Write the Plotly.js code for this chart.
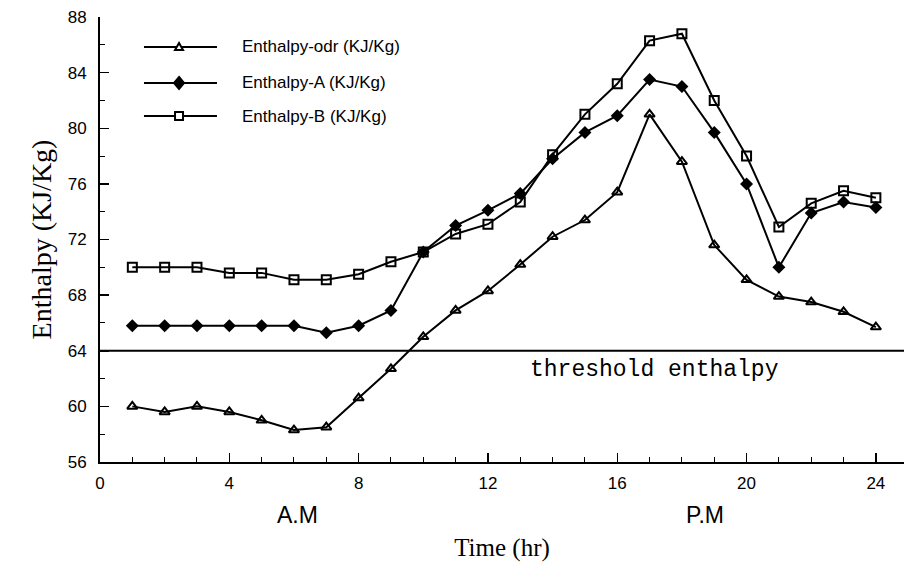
<!DOCTYPE html>
<html>
<head>
<meta charset="utf-8">
<script src="https://cdn.plot.ly/plotly-3.0.1.min.js"></script>
<style>html,body{margin:0;padding:0;background:#fff;}#chart{width:904px;height:574px;}</style>
</head>
<body>
<div id="chart"></div>
<script>
const hours = [1,2,3,4,5,6,7,8,9,10,11,12,13,14,15,16,17,18,19,20,21,22,23,24];
const enthalpyOdr = [60.0,59.6,60.0,59.6,59.0,58.3,58.5,60.6,62.7,65.0,66.9,68.3,70.2,72.2,73.4,75.4,81.0,77.6,71.6,69.1,67.9,67.5,66.8,65.7];
const enthalpyA = [65.8,65.8,65.8,65.8,65.8,65.8,65.3,65.8,66.9,71.1,73.0,74.1,75.3,77.8,79.7,80.9,83.5,83.0,79.7,76.0,70.0,73.9,74.7,74.3];
const enthalpyB = [70.0,70.0,70.0,69.6,69.6,69.1,69.1,69.5,70.4,71.1,72.4,73.1,74.7,78.1,81.0,83.2,86.3,86.8,82.0,78.0,72.9,74.6,75.5,75.0];
const seriesNames = ["Enthalpy-odr (KJ/Kg)","Enthalpy-A (KJ/Kg)","Enthalpy-B (KJ/Kg)"];
const thresholdValue = 64;
const xTickVals = [0,4,8,12,16,20,24];
const yTickVals = [56,60,64,68,72,76,80,84,88];

const lineStyle = {color:'#000', width:2};
const traces = [
  {x:hours, y:enthalpyOdr, name:seriesNames[0], mode:'lines+markers', line:lineStyle,
   marker:{symbol:'triangle-up-open', size:9, color:'#000', line:{width:2, color:'#000'}}},
  {x:hours, y:enthalpyA, name:seriesNames[1], mode:'lines+markers', line:lineStyle,
   marker:{symbol:'diamond', size:10, color:'#000', line:{width:0}}},
  {x:hours, y:enthalpyB, name:seriesNames[2], mode:'lines+markers', line:lineStyle,
   marker:{symbol:'square-open', size:9, color:'#000', line:{width:2, color:'#000'}}}
];

// Hand-drawn legend (long sample lines as in the original)
const legendRowsY = [0.9326, 0.8517, 0.7775];
const legLineX0 = 0.0547, legLineX1 = 0.1455, legMarkX = 0.0983, legTextX = 0.1741;
const legendMarkerPaths = [
  {path:'M-4,-3 L4,-3 L0,4 Z', fill:'#fff'},
  {path:'M0,6 L5,0 L0,-6 L-5,0 Z', fill:'#000'},
  {path:'M-4,-4 L4,-4 L4,4 L-4,4 Z', fill:'#fff'}
];
const legendShapes = [];
const legendAnnots = [];
seriesNames.forEach((nm, i) => {
  legendShapes.push({type:'line', xref:'paper', yref:'paper', x0:legLineX0, x1:legLineX1, y0:legendRowsY[i], y1:legendRowsY[i], line:{color:'#000', width:2}});
  legendShapes.push({type:'path', xref:'paper', yref:'paper', xsizemode:'pixel', ysizemode:'pixel', xanchor:legMarkX, yanchor:legendRowsY[i],
    path:legendMarkerPaths[i].path, fillcolor:legendMarkerPaths[i].fill, line:{color:'#000', width:2}});
  legendAnnots.push({text:nm, xref:'paper', yref:'paper', x:legTextX, y:legendRowsY[i], xanchor:'left', yanchor:'middle', showarrow:false,
    font:{family:'Liberation Sans, Arial, sans-serif', size:17, color:'#000'}});
});

const layout = {
  width:904, height:574,
  margin:{l:100, r:0, t:17, b:112},
  paper_bgcolor:'#fff', plot_bgcolor:'#fff',
  showlegend:false,
  xaxis:{range:[0,24.87], tickvals:xTickVals, ticktext:xTickVals.map(String), ticks:'inside', ticklen:9, tickwidth:1.5, tickcolor:'#000',
         minor:{dtick:1, tick0:0, ticks:'inside', ticklen:5, tickcolor:'#000', tickwidth:1},
         showline:true, linecolor:'#000', linewidth:2, showgrid:false, zeroline:false,
         ticklabelstandoff:5,
         tickfont:{family:'Liberation Sans, Arial, sans-serif', size:17, color:'#000'},
         title:{text:'Time (hr)', font:{family:'Liberation Serif, Times New Roman, serif', size:25, color:'#000'}, standoff:46}},
  yaxis:{range:[56,88], tickvals:yTickVals, ticktext:yTickVals.map(String), ticks:'inside', ticklen:9, tickwidth:1.5, tickcolor:'#000',
         minor:{dtick:2, tick0:56, ticks:'inside', ticklen:5, tickcolor:'#000', tickwidth:1},
         showline:true, linecolor:'#000', linewidth:2, showgrid:false, zeroline:false,
         ticklabelstandoff:8,
         tickfont:{family:'Liberation Sans, Arial, sans-serif', size:17, color:'#000'},
         title:{text:'Enthalpy (KJ/Kg)', font:{family:'Liberation Serif, Times New Roman, serif', size:28, color:'#000'}, standoff:8}},
  shapes:[
    {type:'line', xref:'paper', x0:0, x1:1, yref:'y', y0:thresholdValue, y1:thresholdValue, line:{color:'#000', width:2}}
  ].concat(legendShapes),
  annotations:[
    {text:'threshold enthalpy', xref:'x', yref:'y', x:17.15, y:62.6, showarrow:false,
     font:{family:'Liberation Mono, Courier New, monospace', size:23, color:'#000'}},
    {text:'A.M', xref:'x', yref:'paper', x:6.1, y:-0.12, yanchor:'middle', showarrow:false,
     font:{family:'Liberation Sans, Arial, sans-serif', size:23, color:'#000'}},
    {text:'P.M', xref:'x', yref:'paper', x:18.7, y:-0.12, yanchor:'middle', showarrow:false,
     font:{family:'Liberation Sans, Arial, sans-serif', size:23, color:'#000'}}
  ].concat(legendAnnots)
};

Plotly.newPlot('chart', traces, layout, {displayModeBar:false, staticPlot:true});
</script>
</body>
</html>
